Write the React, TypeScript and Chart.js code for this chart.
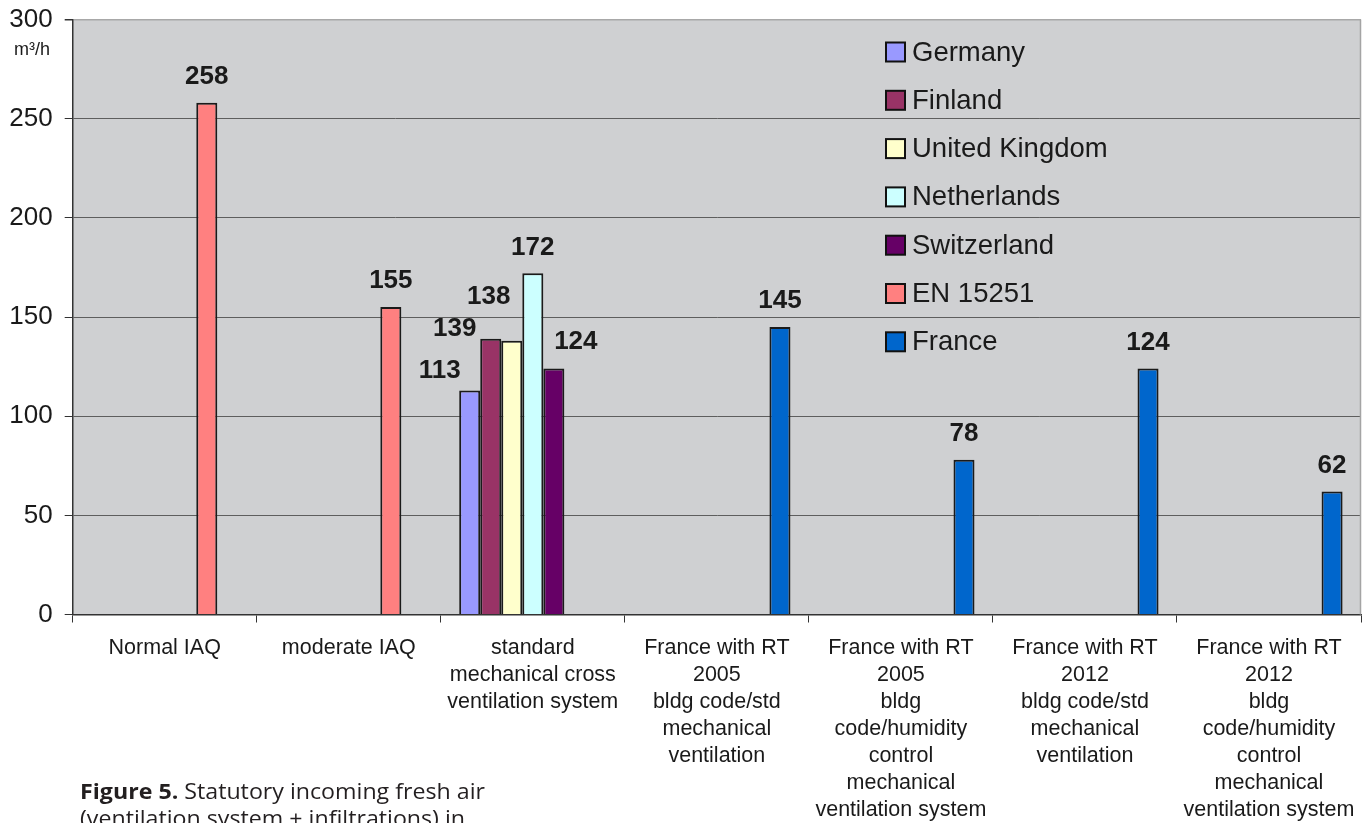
import React, { useEffect, useRef } from "react";
import { Chart, registerables } from "chart.js";

Chart.register(...registerables);

// Category labels (multi-line)
const categories: string[][] = [
  ["Normal IAQ"],
  ["moderate IAQ"],
  ["standard", "mechanical cross", "ventilation system"],
  ["France with RT", "2005", "bldg code/std", "mechanical", "ventilation"],
  ["France with RT", "2005", "bldg", "code/humidity", "control", "mechanical", "ventilation system"],
  ["France with RT", "2012", "bldg code/std", "mechanical", "ventilation"],
  ["France with RT", "2012", "bldg", "code/humidity", "control", "mechanical", "ventilation system"],
];

// Fresh air flow, m³/h
const germany = [null, null, 113, null, null, null, null];
const finland = [null, null, 139, null, null, null, null];
const unitedKingdom = [null, null, 138, null, null, null, null];
const netherlands = [null, null, 172, null, null, null, null];
const switzerland = [null, null, 124, null, null, null, null];
const en15251 = [258, 155, null, null, null, null, null];
const france = [null, null, null, 145, 78, 124, 62];

const seriesNames = ["Germany", "Finland", "United Kingdom", "Netherlands", "Switzerland", "EN 15251", "France"];
const seriesColors = ["#9999FF", "#993366", "#FFFFCC", "#CCFFFF", "#660066", "#FF8080", "#0066CC"];

const yTicks = [0, 50, 100, 150, 200, 250, 300];

// Nudges for value labels that would otherwise collide (key: "dataset,category")
const labelNudge: Record<string, [number, number]> = {
  "0,2": [-30, 6],
  "1,2": [-36, 16],
  "2,2": [-23, -18],
  "3,2": [0, 0],
  "4,2": [22, -1],
};

const FONT = "'Liberation Sans', Arial, Helvetica, sans-serif";
const PLOT_BG = "#CFD0D2";

const decorPlugin = {
  id: "decor",
  beforeDraw(chart: any) {
    const { ctx, chartArea: a, width, height } = chart;
    ctx.save();
    ctx.fillStyle = "#ffffff";
    ctx.fillRect(0, 0, width, height);
    ctx.fillStyle = PLOT_BG;
    ctx.fillRect(a.left, a.top, a.right - a.left, a.bottom - a.top);
    ctx.restore();
  },
  beforeDatasetsDraw(chart: any) {
    const { ctx, chartArea: a } = chart;
    ctx.save();
    ctx.strokeStyle = "#a4a4a4";
    ctx.lineWidth = 1.5;
    ctx.beginPath();
    ctx.moveTo(Math.round(a.right) - 0.5, a.top);
    ctx.lineTo(Math.round(a.right) - 0.5, a.bottom);
    ctx.stroke();
    ctx.restore();
  },
  afterDatasetsDraw(chart: any) {
    const { ctx } = chart;
    ctx.save();
    // value labels
    ctx.font = `bold 26px ${FONT}`;
    ctx.fillStyle = "#1a1a1a";
    ctx.textAlign = "center";
    ctx.textBaseline = "middle";
    chart.data.datasets.forEach((ds: any, di: number) => {
      const meta = chart.getDatasetMeta(di);
      ds.data.forEach((v: number | null, i: number) => {
        if (v === null || v === undefined) return;
        const el = meta.data[i];
        const n = labelNudge[`${di},${i}`] || [0, 0];
        ctx.fillText(String(v), el.x + n[0], el.y - 26 + n[1]);
      });
    });

    // legend inside the plot
    const lx = 886;
    const ly0 = 52;
    const step = 48.3;
    ctx.font = `27.5px ${FONT}`;
    ctx.textAlign = "left";
    seriesNames.forEach((name, i) => {
      const cy = ly0 + i * step;
      ctx.fillStyle = seriesColors[i];
      ctx.fillRect(lx, cy - 9.5, 19, 19);
      ctx.strokeStyle = "#111";
      ctx.lineWidth = 2;
      ctx.strokeRect(lx, cy - 9.5, 19, 19);
      ctx.fillStyle = "#1a1a1a";
      ctx.fillText(name, 912, cy + 1);
    });

    // unit label
    ctx.font = `18px ${FONT}`;
    ctx.textAlign = "center";
    ctx.fillText("m³/h", 32, 50);
    ctx.restore();
  },
  afterDraw(chart: any) {
    const { ctx } = chart;
    ctx.save();
    ctx.fillStyle = "#231f20";
    ctx.textBaseline = "alphabetic";
    ctx.textAlign = "left";
    const x0 = 80;
    ctx.font = `bold 21px 'Open Sans', sans-serif`;
    const boldPart = "Figure 5.";
    const wBold = ctx.measureText(boldPart + " ").width;
    ctx.font = `21px 'Open Sans', sans-serif`;
    const rest = "Statutory incoming fresh air";
    const wRest = ctx.measureText(rest).width;
    const sx = 405 / (wBold + wRest);
    ctx.translate(x0, 0);
    ctx.scale(sx, 1);
    ctx.font = `bold 21px 'Open Sans', sans-serif`;
    ctx.fillText(boldPart, 0, 799);
    ctx.font = `21px 'Open Sans', sans-serif`;
    ctx.fillText(rest, wBold, 799);
    ctx.fillText("(ventilation system + infiltrations) in", 0, 826);
    ctx.restore();
  },
};

export default function App() {
  const ref = useRef<HTMLCanvasElement | null>(null);

  useEffect(() => {
    if (!ref.current) return;
    Chart.defaults.font.family = FONT;
    const allSeries = [germany, finland, unitedKingdom, netherlands, switzerland, en15251, france];
    const chart = new Chart(ref.current, {
      type: "bar",
      data: {
        labels: categories,
        datasets: allSeries.map((d, i) => ({
          label: seriesNames[i],
          data: d,
          backgroundColor: seriesColors[i],
          borderColor: "#1a1a1a",
          borderWidth: 2,
          borderSkipped: "bottom",
          categoryPercentage: 0.8,
          barPercentage: 1,
        })),
      },
      options: {
        animation: false,
        responsive: false,
        maintainAspectRatio: false,
        layout: { padding: { top: 19.5, right: 1, left: 0, bottom: 0 } },
        plugins: {
          legend: { display: false },
          tooltip: { enabled: false },
        },
        scales: {
          x: {
            offset: true,
            grid: {
              drawOnChartArea: false,
              offset: true,
              tickLength: 8,
              tickColor: "#333",
            },
            border: { color: "#333", width: 1.5 },
            ticks: {
              font: { size: 21.5, lineHeight: 27 / 21.5 },
              color: "#1a1a1a",
              padding: 12,
              maxRotation: 0,
              autoSkip: false,
            },
            afterFit: (s: any) => {
              s.height = 208.5;
              s.paddingLeft = 0;
              s.paddingRight = 0;
            },
          },
          y: {
            min: 0,
            max: 300,
            afterBuildTicks: (s: any) => {
              s.ticks = yTicks.map((v) => ({ value: v }));
            },
            ticks: {
              font: { size: 26 },
              color: "#1a1a1a",
              padding: 12,
            },
            grid: {
              color: (c: any) => (c.tick && c.tick.value === 300 ? "#a8a8a8" : "#5e5e5e"),
              lineWidth: (c: any) => (c.tick && c.tick.value === 300 ? 1.5 : 1),
              tickColor: "#333",
              tickLength: 8,
            },
            border: { color: "#333", width: 1.5 },
            afterFit: (s: any) => {
              s.width = 72.7;
              s.paddingTop = 0;
              s.paddingBottom = 0;
            },
          },
        },
      },
      plugins: [decorPlugin],
    });
    return () => chart.destroy();
  }, []);

  return (
    <div style={{ position: "fixed", left: 0, top: 0, width: 1362, height: 823, background: "#fff" }}>
      <canvas ref={ref} width={1362} height={823} style={{ display: "block", width: 1362, height: 823 }} />
    </div>
  );
}
